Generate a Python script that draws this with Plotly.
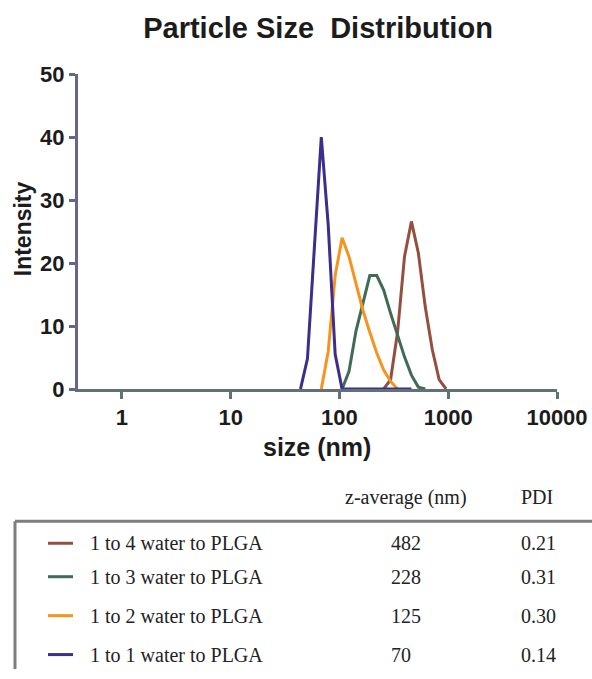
import plotly.graph_objects as go

# ---- data ----
sizes_11 = [43.82, 50.75, 58.77, 68.06, 78.82, 91.28, 105.7, 122.4, 141.8, 164.2, 190.1, 220.2, 255.0, 295.3, 342.0, 396.1, 458.7]
int_11 = [0, 4.8, 22.4, 40.0, 26.0, 5.5, 0, 0, 0, 0, 0, 0, 0, 0, 0, 0, 0]

sizes_12 = [68.06, 78.82, 91.28, 105.7, 122.4, 141.8, 164.2, 190.1, 220.2, 255.0, 295.3, 342.0]
int_12 = [0, 6.0, 18.0, 24.0, 21.0, 16.5, 12.5, 9.0, 5.7, 3.0, 1.2, 0]

sizes_13 = [105.7, 122.4, 141.8, 164.2, 190.1, 220.2, 255.0, 295.3, 342.0, 396.1, 458.7, 531.2, 615.1]
int_13 = [0, 2.8, 9.2, 13.8, 18.0, 18.0, 15.7, 12.0, 8.5, 5.1, 2.2, 0.3, 0]

sizes_14 = [255.0, 295.3, 342.0, 396.1, 458.7, 531.2, 615.1, 712.4, 825.0, 955.4]
int_14 = [0, 1.5, 9.0, 21.0, 26.6, 21.6, 13.0, 6.3, 1.5, 0]

series_names = ["1 to 4 water to PLGA", "1 to 3 water to PLGA", "1 to 2 water to PLGA", "1 to 1 water to PLGA"]
z_average = ["482", "228", "125", "70"]
pdi = ["0.21", "0.31", "0.30", "0.14"]
colors = ["#94503f", "#3f6b57", "#f5941e", "#3d2d8c"]

x_tickvals = [1, 10, 100, 1000, 10000]
x_ticktext = ["1", "10", "100", "1000", "10000"]
y_tickvals = [0, 10, 20, 30, 40, 50]

# ---- geometry (page margin removed so figure starts at page corner) ----
W, H = 592, 679
L, R, T, B = 78, 557, 74, 389.5  # plot area in px

def px_x(px):
    return (px - L) / (R - L)

def px_y(py):
    return (B - py) / (B - T)

fig = go.Figure()
data = [(sizes_14, int_14), (sizes_13, int_13), (sizes_12, int_12), (sizes_11, int_11)]
for (sx, sy), c, n in zip(data, colors, series_names):
    fig.add_trace(go.Scatter(x=sx, y=sy, mode="lines", name=n,
                             line=dict(color=c, width=3), showlegend=False))

sans = "Liberation Sans, Arial, Helvetica"
axis_font = dict(family=sans, size=22, color="#1c1c1c", weight="bold")

fig.update_layout(
    width=W, height=H,
    margin=dict(l=L, r=W - R, t=T, b=H - B, autoexpand=False),
    paper_bgcolor="white", plot_bgcolor="white",
    title=dict(text="Particle Size\u00a0\u00a0Distribution", x=318 / W, xanchor="center",
               xref="container", yref="container",
               y=1 - 28 / H, yanchor="middle",
               font=dict(family=sans, size=29, color="#1c1c1c", weight="bold")),
    xaxis=dict(type="log", range=[-0.404, 4.0], tickvals=x_tickvals, ticktext=x_ticktext,
               showgrid=False, zeroline=False, showline=True, linecolor="#627078", linewidth=3,
               ticks="outside", ticklen=7, tickwidth=3, tickcolor="#627078",
               tickfont=axis_font, layer="below traces", automargin=False),
    yaxis=dict(range=[0, 50], tickvals=y_tickvals, showgrid=False, zeroline=False,
               showline=True, linecolor="#66668c", linewidth=3,
               ticks="outside", ticklen=6, tickwidth=3, tickcolor="#66668c",
               tickfont=axis_font, layer="below traces", automargin=False),
)

ann = []
ann.append(dict(text="Intensity", x=px_x(23), y=px_y(229.5), xref="paper", yref="paper",
                textangle=-90, showarrow=False, xanchor="center", yanchor="middle",
                font=dict(family=sans, size=23, color="#1c1c1c", weight="bold")))
ann.append(dict(text="size (nm)", x=px_x(317), y=px_y(448), xref="paper", yref="paper",
                showarrow=False, xanchor="center", yanchor="middle",
                font=dict(family=sans, size=25, color="#1c1c1c", weight="bold")))

serif = dict(family="Liberation Serif, Times New Roman", size=20, color="#222222")
ann.append(dict(text="z-average (nm)", x=px_x(342.5), y=px_y(498), xref="paper", yref="paper",
                showarrow=False, xanchor="left", yanchor="middle", font=serif))
ann.append(dict(text="PDI", x=px_x(519), y=px_y(498), xref="paper", yref="paper",
                showarrow=False, xanchor="left", yanchor="middle", font=serif))

shapes = []
shapes.append(dict(type="line", xref="paper", yref="paper",
                   x0=px_x(15), x1=px_x(600), y0=px_y(522), y1=px_y(522),
                   line=dict(color="#7d7d7d", width=3)))
shapes.append(dict(type="line", xref="paper", yref="paper",
                   x0=px_x(15), x1=px_x(15), y0=px_y(522), y1=px_y(670),
                   line=dict(color="#7d7d7d", width=3)))
row_y = [544, 577.5, 616.5, 655.5]
for ry, c, n, z, p in zip(row_y, colors, series_names, z_average, pdi):
    shapes.append(dict(type="line", xref="paper", yref="paper",
                       x0=px_x(48), x1=px_x(73), y0=px_y(ry), y1=px_y(ry),
                       line=dict(color=c, width=3)))
    ann.append(dict(text=n, x=px_x(88), y=px_y(ry), xref="paper", yref="paper",
                    xanchor="left", yanchor="middle", showarrow=False, font=serif))
    ann.append(dict(text=z, x=px_x(389), y=px_y(ry), xref="paper", yref="paper",
                    xanchor="left", yanchor="middle", showarrow=False, font=serif))
    ann.append(dict(text=p, x=px_x(519), y=px_y(ry), xref="paper", yref="paper",
                    xanchor="left", yanchor="middle", showarrow=False, font=serif))

fig.update_layout(annotations=ann, shapes=shapes)
fig.write_html("out.html", config={"displayModeBar": False},
               post_script="document.body.style.margin='0';document.body.style.overflow='hidden';")
